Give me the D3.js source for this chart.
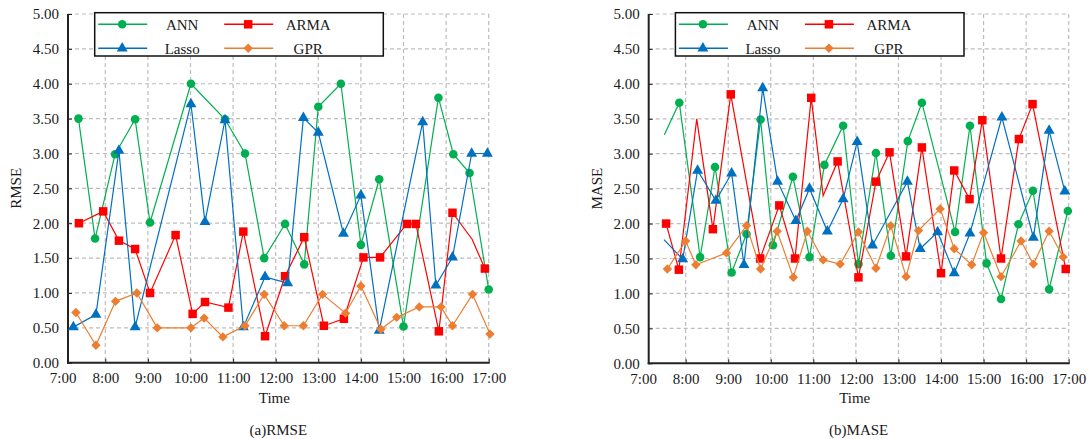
<!DOCTYPE html>
<html>
<head>
<meta charset="utf-8">
<script src="https://cdn.jsdelivr.net/npm/d3@7"></script>
<style>
    body { margin: 0; background: #fff; }
    text { font-family: "Liberation Serif", "Times New Roman", serif; fill: #1a1a1a; }
</style>
</head>
<body>
<svg id="chart" width="1088" height="439"></svg>
<script>
// ---- data (time in decimal hours) ----
const hourTicks = [7, 8, 9, 10, 11, 12, 13, 14, 15, 16, 17]
const hourLabels = ["7:00", "8:00", "9:00", "10:00", "11:00", "12:00", "13:00", "14:00", "15:00", "16:00", "17:00"]
const valueTicks = [0, 0.5, 1, 1.5, 2, 2.5, 3, 3.5, 4, 4.5, 5]
const seriesNames = ["ANN", "ARMA", "Lasso", "GPR"]

// (a) RMSE
const rmseAnnT = [7.37, 7.76, 8.23, 8.70, 9.05, 10.01, 10.81, 11.28, 11.73, 12.22, 12.67, 13.00, 13.53, 14.00, 14.43, 15.00, 15.82, 16.17, 16.55, 17.00]
const rmseAnnV = [3.50, 1.78, 2.99, 3.49, 2.01, 4.00, 3.49, 3.00, 1.50, 1.99, 1.41, 3.67, 4.00, 1.69, 2.63, 0.52, 3.80, 2.99, 2.72, 1.05]
const rmseArmaT = [7.38, 7.95, 8.32, 8.70, 9.05, 9.65, 10.05, 10.34, 10.89, 11.24, 11.75, 12.22, 12.67, 13.13, 13.60, 14.06, 14.45, 15.08, 15.29, 15.83, 16.15, 16.61, 16.91]
const rmseArmaV = [2.00, 2.17, 1.75, 1.63, 1.00, 1.83, 0.70, 0.87, 0.79, 1.88, 0.38, 1.24, 1.80, 0.53, 0.63, 1.51, 1.51, 1.99, 1.99, 0.45, 2.15, 1.77, 1.35]
const rmseArmaBare = [21]
const rmseLassoT = [7.25, 7.78, 8.32, 8.70, 10.01, 10.34, 10.81, 11.24, 11.75, 12.28, 12.65, 13.00, 13.59, 14.00, 14.43, 15.45, 15.76, 16.15, 16.60, 16.97]
const rmseLassoV = [0.51, 0.69, 3.04, 0.51, 3.71, 2.02, 3.48, 0.51, 1.23, 1.14, 3.51, 3.30, 1.85, 2.40, 0.46, 3.45, 1.11, 1.51, 3.00, 3.00]
const rmseGprT = [7.31, 7.78, 8.24, 8.74, 9.22, 10.01, 10.32, 10.76, 11.28, 11.73, 12.20, 12.65, 13.10, 13.64, 14.00, 14.47, 14.84, 15.37, 15.88, 16.15, 16.62, 17.03]
const rmseGprV = [0.72, 0.25, 0.88, 1.00, 0.50, 0.50, 0.64, 0.37, 0.53, 0.98, 0.53, 0.53, 0.98, 0.71, 1.10, 0.48, 0.65, 0.80, 0.80, 0.53, 0.98, 0.41]

// (b) MASE
const maseAnnT = [7.50, 7.85, 8.34, 8.69, 9.08, 9.43, 9.76, 10.05, 10.52, 10.91, 11.26, 11.70, 12.06, 12.47, 12.82, 13.22, 13.55, 14.33, 14.68, 15.07, 15.41, 15.82, 16.16, 16.54, 16.98]
const maseAnnV = [3.27, 3.73, 1.52, 2.81, 1.30, 1.85, 3.49, 1.69, 2.67, 1.52, 2.84, 3.40, 1.42, 3.01, 1.54, 3.18, 3.73, 1.88, 3.40, 1.43, 0.92, 1.99, 2.47, 1.06, 2.18]
const maseAnnBare = [0]
const maseArmaT = [7.54, 7.84, 8.26, 8.64, 9.06, 9.75, 10.20, 10.57, 10.95, 11.23, 11.57, 12.06, 12.47, 12.79, 13.18, 13.55, 14.00, 14.31, 14.67, 14.97, 15.41, 15.83, 16.15, 16.93]
const maseArmaV = [2.00, 1.34, 3.50, 1.92, 3.85, 1.50, 2.26, 1.50, 3.80, 2.40, 2.89, 1.23, 2.60, 3.02, 1.53, 3.09, 1.29, 2.76, 2.35, 3.48, 1.50, 3.21, 3.71, 1.35]
const maseArmaBare = [2, 9]
const maseLassoT = [7.49, 7.93, 8.28, 8.71, 9.08, 9.37, 9.81, 10.16, 10.59, 10.91, 11.33, 11.70, 12.03, 12.39, 13.21, 13.51, 13.92, 14.31, 14.68, 15.43, 16.17, 16.54, 16.91]
const maseLassoV = [1.77, 1.49, 2.76, 2.33, 2.72, 1.41, 3.94, 2.60, 2.04, 2.50, 1.89, 2.35, 3.17, 1.69, 2.60, 1.64, 1.88, 1.29, 1.86, 3.52, 1.80, 3.33, 2.46]
const maseLassoBare = [0]
const maseGprT = [7.57, 8.00, 8.24, 8.96, 9.43, 9.76, 10.15, 10.53, 10.86, 11.23, 11.63, 12.06, 12.47, 12.82, 13.18, 13.47, 13.98, 14.31, 14.72, 15.00, 15.41, 15.88, 16.17, 16.54, 16.87]
const maseGprV = [1.35, 1.75, 1.41, 1.58, 1.97, 1.35, 1.89, 1.23, 1.89, 1.48, 1.42, 1.88, 1.36, 1.97, 1.24, 1.90, 2.21, 1.64, 1.41, 1.87, 1.24, 1.75, 1.42, 1.89, 1.52]

// ---- styles ----
const colors = {ANN: "#00b050", ARMA: "#ff0000", Lasso: "#0070c0", GPR: "#ed7d31"}
const symbols = {
    ANN: {type: d3.symbolCircle, size: 58, rotate: 0},
    ARMA: {type: d3.symbolSquare, size: 72, rotate: 0},
    Lasso: {type: d3.symbolTriangle, size: 52, rotate: 0},
    GPR: {type: d3.symbolSquare, size: 44, rotate: 45}
}

const panels = [
    {
        x7: 62.7, x17: 488.7, axisX: 68, yTop: 14, yBot: 362.7,
        yTitle: "RMSE", yTitleX: 16, caption: "(a)RMSE",
        series: {
            ANN: [rmseAnnT, rmseAnnV, []],
            ARMA: [rmseArmaT, rmseArmaV, rmseArmaBare],
            Lasso: [rmseLassoT, rmseLassoV, []],
            GPR: [rmseGprT, rmseGprV, []]
        }
    },
    {
        x7: 643.1, x17: 1068.7, axisX: 648.7, yTop: 14, yBot: 363.3,
        yTitle: "MASE", yTitleX: 597, caption: "(b)MASE",
        series: {
            ANN: [maseAnnT, maseAnnV, maseAnnBare],
            ARMA: [maseArmaT, maseArmaV, maseArmaBare],
            Lasso: [maseLassoT, maseLassoV, maseLassoBare],
            GPR: [maseGprT, maseGprV, []]
        }
    }
]

const svg = d3.select("#chart")

panels.forEach(function (p) {
    let x = d3.scaleLinear().domain([7, 17]).range([p.x7, p.x17])
    let y = d3.scaleLinear().domain([0, 5]).range([p.yBot, p.yTop])
    let g = svg.append("g")

    // grid
    g.selectAll(".hgrid").data(valueTicks.slice(1)).enter().append("line")
        .attr("x1", p.axisX).attr("x2", x(17))
        .attr("y1", d => y(d)).attr("y2", d => y(d))
        .attr("stroke", "#bdbdbd").attr("stroke-width", 1.2).attr("stroke-dasharray", "4,3")
    g.selectAll(".vgrid").data(hourTicks.slice(1)).enter().append("line")
        .attr("x1", d => x(d)).attr("x2", d => x(d))
        .attr("y1", y(5)).attr("y2", y(0))
        .attr("stroke", "#bdbdbd").attr("stroke-width", 1.2).attr("stroke-dasharray", "4,3")

    // axes
    let xAxis = d3.axisBottom(x).tickValues(hourTicks).tickFormat((d, i) => hourLabels[i])
        .tickSizeInner(-4).tickSizeOuter(0).tickPadding(10)
    let gx = g.append("g").attr("transform", `translate(0,${p.yBot})`).call(xAxis)
    gx.select(".domain").remove()
    gx.selectAll(".tick line").filter(d => d === 7).remove()
    gx.selectAll("text").attr("font-size", 15).attr("font-family", "Liberation Serif")

    let yAxis = d3.axisLeft(y).tickValues(valueTicks).tickFormat(d3.format(".2f"))
        .tickSizeInner(-4).tickSizeOuter(0).tickPadding(9)
    let gy = g.append("g").attr("transform", `translate(${p.axisX},0)`).call(yAxis)
    gy.select(".domain").remove()
    gy.selectAll("text").attr("font-size", 15).attr("font-family", "Liberation Serif")
    gy.selectAll(".tick line").attr("stroke", "#222")
    gx.selectAll(".tick line").attr("stroke", "#222")

    g.append("line").attr("x1", p.axisX).attr("x2", p.axisX).attr("y1", y(5)).attr("y2", p.yBot + 1)
        .attr("stroke", "#222").attr("stroke-width", 2)
    g.append("line").attr("x1", p.axisX - 1).attr("x2", x(17) + 1).attr("y1", p.yBot).attr("y2", p.yBot)
        .attr("stroke", "#222").attr("stroke-width", 2)

    // series
    seriesNames.forEach(function (name) {
        let s = p.series[name]
        let pts = s[0].map((t, i) => ({t: t, v: s[1][i], bare: s[2].includes(i)}))
        g.append("path").datum(pts)
            .attr("fill", "none").attr("stroke", colors[name]).attr("stroke-width", 1.2)
            .attr("d", d3.line().x(d => x(d.t)).y(d => y(d.v)))
        let sym = symbols[name]
        g.selectAll(".m-" + name).data(pts.filter(d => !d.bare)).enter().append("path")
            .attr("d", d3.symbol().type(sym.type).size(sym.size))
            .attr("fill", colors[name])
            .attr("transform", d => `translate(${x(d.t)},${y(d.v)}) rotate(${sym.rotate})`)
    })

    // titles
    let mid = (p.axisX + x(17)) / 2
    g.append("text").attr("x", mid - 4).attr("y", 403).attr("text-anchor", "middle")
        .attr("font-size", 15).text("Time")
    g.append("text").attr("x", mid).attr("y", 435).attr("text-anchor", "middle")
        .attr("font-size", 15).text(p.caption)
    g.append("text").attr("transform", `translate(${p.yTitleX + 5},${(p.yTop + p.yBot) / 2}) rotate(-90)`)
        .attr("text-anchor", "middle").attr("font-size", 15).text(p.yTitle)

    // legend
    let lx = p.axisX + 26.7
    let lg = g.append("g").attr("transform", `translate(${lx},12.7)`)
    lg.append("rect").attr("width", 288.6).attr("height", 43.3)
        .attr("fill", "#fff").attr("stroke", "#111").attr("stroke-width", 1.5)
    seriesNames.forEach(function (name, i) {
        let col = i % 2, row = Math.floor(i / 2)
        let x0 = 3.5 + col * 126, cy = 11.6 + row * 24
        lg.append("line").attr("x1", x0).attr("x2", x0 + 49).attr("y1", cy).attr("y2", cy)
            .attr("stroke", colors[name]).attr("stroke-width", 1.5)
        let sym = symbols[name]
        lg.append("path").attr("d", d3.symbol().type(sym.type).size(sym.size))
            .attr("fill", colors[name])
            .attr("transform", `translate(${x0 + 24},${cy}) rotate(${sym.rotate})`)
        lg.append("text").attr("x", x0 + 84).attr("y", cy).attr("dy", "0.35em")
            .attr("text-anchor", "middle").attr("font-size", 15).text(name)
    })
})
</script>
</body>
</html>
